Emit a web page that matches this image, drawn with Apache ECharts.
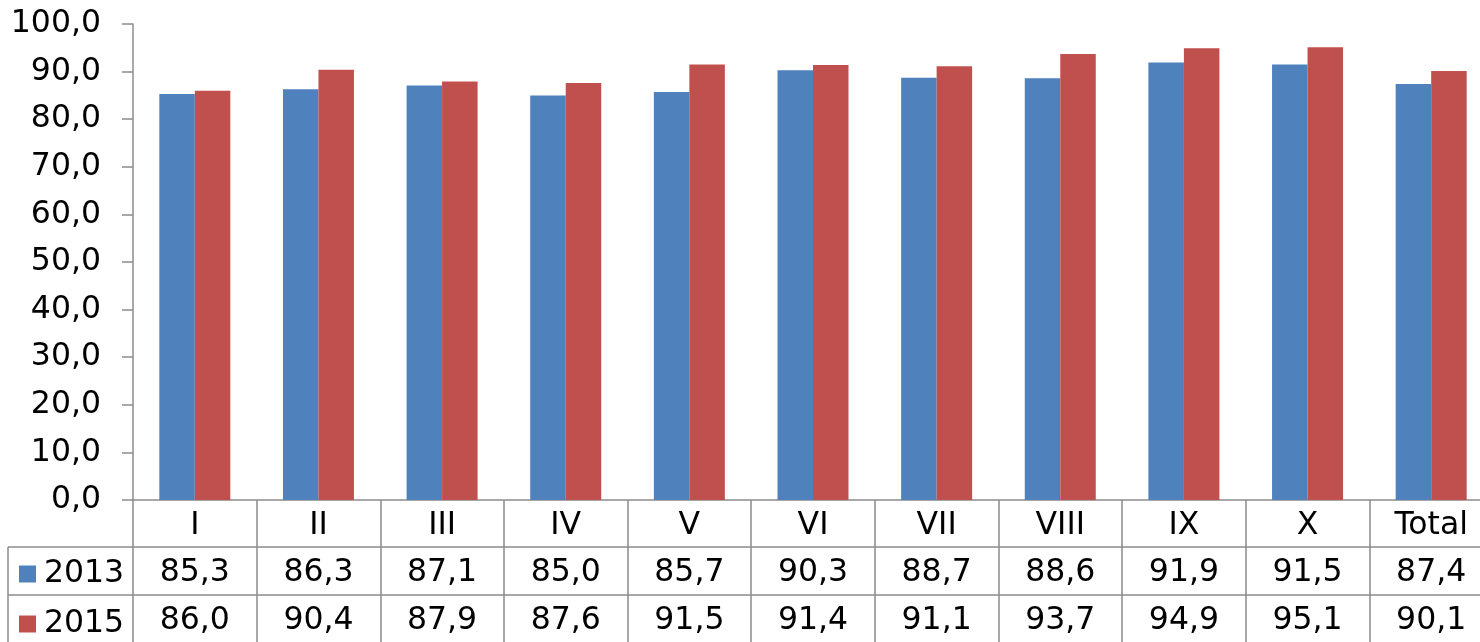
<!DOCTYPE html>
<html><head><meta charset="utf-8">
<script src="https://cdn.jsdelivr.net/npm/echarts@6/dist/echarts.min.js"></script>
<style>html,body{margin:0;padding:0;background:#fff}#c{width:1480px;height:642px}</style>
</head><body><div id="c"></div>
<script>
const categories = ['I','II','III','IV','V','VI','VII','VIII','IX','X','Total'];
const values2013 = [85.3,86.3,87.1,85.0,85.7,90.3,88.7,88.6,91.9,91.5,87.4];
const values2015 = [86.0,90.4,87.9,87.6,91.5,91.4,91.1,93.7,94.9,95.1,90.1];
const seriesNames = ['2013','2015'];
const colors = ['#4F81BD','#C0504D'];
const fmt = v => v.toFixed(1).replace('.', ',');
const gray = '#8C8C8C';
const FONT = 'DejaVu Sans';
const FS = 31.5;
const chart = echarts.init(document.getElementById('c'));
const tableAxis = (offset, vals) => ({
  type:'category', data: categories, position:'bottom', offset: offset,
  axisLine:{show:true, lineStyle:{color:gray, width:1.5}},
  axisTick:{show:false},
  axisLabel:{interval:0, fontFamily:FONT, fontSize:FS, color:'#000', margin:26, verticalAlign:'middle',
    formatter:(v,i)=>fmt(vals[i])}
});
chart.setOption({
  animation:false,
  textStyle:{fontFamily:FONT},
  grid:{left:133, top:24, height:476, width:1360, containLabel:false, outerBoundsMode:'none'},
  legend:{orient:'vertical', left:19, top:558, padding:0, height:100, itemGap:18, itemWidth:17, itemHeight:17,
    icon:'rect', data:seriesNames,
    textStyle:{fontFamily:FONT, fontSize:FS, lineHeight:30, color:'#000', padding:[0,0,0,3]}},
  xAxis:[
    {type:'category', data: categories, position:'bottom',
      axisLine:{show:true, lineStyle:{color:gray, width:1.5}},
      axisTick:{show:true, length:142, lineStyle:{color:gray, width:1.5}},
      axisLabel:{interval:0, fontFamily:FONT, fontSize:FS, color:'#000', margin:26, verticalAlign:'middle'}},
    tableAxis(47, values2013),
    tableAxis(95, values2015)
  ],
  yAxis:{type:'value', min:0, max:100, interval:10,
    axisLine:{show:true, lineStyle:{color:gray, width:1.5}},
    axisTick:{show:true, length:11, lineStyle:{color:gray, width:1.5}},
    splitLine:{show:false},
    axisLabel:{fontFamily:FONT, fontSize:FS, color:'#000', margin:32, formatter:v=>fmt(v)}},
  series:[
    {name:seriesNames[0], type:'bar', data:values2013, barWidth:35.5, barGap:'0%', itemStyle:{color:colors[0]}},
    {name:seriesNames[1], type:'bar', data:values2015, barWidth:35.5, barGap:'0%', itemStyle:{color:colors[1]}}
  ],
  graphic:[
    {type:'line', shape:{x1:8,y1:547,x2:133,y2:547}, style:{stroke:gray, lineWidth:1.5}},
    {type:'line', shape:{x1:8,y1:595,x2:133,y2:595}, style:{stroke:gray, lineWidth:1.5}},
    {type:'line', shape:{x1:8,y1:547,x2:8,y2:642}, style:{stroke:gray, lineWidth:1.5}}
  ]
});
</script></body></html>
